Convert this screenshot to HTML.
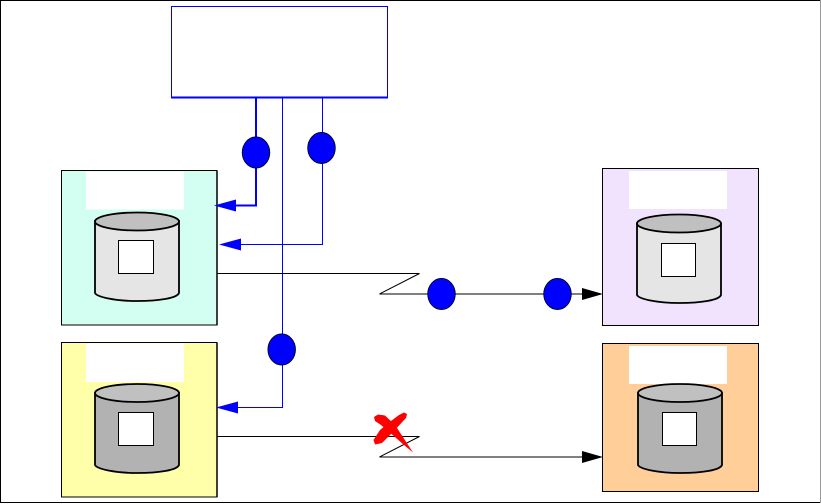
<!DOCTYPE html>
<html>
<head>
<meta charset="utf-8">
<style>
html,body{margin:0;padding:0;background:#fff}
svg{display:block}
</style>
</head>
<body>
<svg xmlns="http://www.w3.org/2000/svg" width="821" height="504" viewBox="0 0 821 504">
<rect width="821" height="504" fill="#fff"/>
<!-- frame -->
<path d="M0 0.5H821" stroke="#000" stroke-width="1"/>
<path d="M0 502.5H821" stroke="#000" stroke-width="1"/>
<path d="M0.5 0V503" stroke="#000" stroke-width="1"/>
<path d="M820.5 0V503" stroke="#999" stroke-width="1"/>
<!-- top box -->
<rect x="171.5" y="6.5" width="216" height="91" fill="#fff" stroke="#00f" stroke-width="1"/>
<path d="M171 97.5H388" stroke="#00f" stroke-width="2"/>

<!-- tinted boxes -->
<g stroke="#000" stroke-width="1">
<rect x="61.5" y="170.5" width="155.500" height="154.500" fill="#d2fff2"/>
<rect x="61.5" y="342.500" width="155.500" height="154.500" fill="#ffffaa"/>
<rect x="602.5" y="168.500" width="156" height="157" fill="#f1e3fe"/>
<rect x="602.5" y="343.500" width="156" height="148" fill="#ffce99"/>
</g>
<path d="M217 171V325M217 343V497" stroke="#000" stroke-width="1.500"/>
<g fill="#fff">
<rect x="86" y="171.500" width="98" height="38"/>
<rect x="86" y="343.500" width="98" height="38.500"/>
<rect x="629" y="171" width="98" height="38"/>
<rect x="629" y="346" width="98" height="38"/>
</g>

<!-- cylinders -->
<g stroke="#000" stroke-width="1.800">
<path d="M95 221V293C97 297 115 301 137 301C160 301 177 298 179 293V221Z" fill="#e5e5e5"/>
<ellipse cx="137" cy="221.500" rx="42" ry="9" fill="#c0c0c0"/>
<path d="M95 393V465C97 469 115 473 137 473C160 473 177 470 179 465V393Z" fill="#b2b2b2"/>
<ellipse cx="137" cy="393" rx="42" ry="9" fill="#c0c0c0"/>
<path d="M637 223.500V295C639 299 657 303 679 303C702 303 719 300 721 295V223.500Z" fill="#e5e5e5"/>
<ellipse cx="679" cy="223.500" rx="42" ry="9" fill="#c0c0c0"/>
<path d="M638 393V465C640 469 658 473 680 473C703 473 720 470 722 465V393Z" fill="#b2b2b2"/>
<ellipse cx="680" cy="393" rx="42" ry="9" fill="#c0c0c0"/>
</g>
<g fill="#fff" stroke="#000" stroke-width="1">
<rect x="118.500" y="240.500" width="35" height="33"/>
<rect x="118.500" y="412.500" width="35" height="33"/>
<rect x="661.500" y="243.500" width="34" height="33"/>
<rect x="662.500" y="412.500" width="34" height="33"/>
</g>

<!-- blue connectors -->
<g fill="none" stroke="#00f">
<path d="M256 97V205.500H234" stroke-width="2"/>
<path d="M322.500 97V244.500H238" stroke-width="1"/>
<path d="M282.500 97V407.500H236" stroke-width="1"/>
</g>
<g fill="#00f">
<polygon points="214,205.500 236,199.500 236,211.500"/>
<polygon points="219,244.500 241,238.500 241,250.500"/>
<polygon points="216,407.500 238,401.500 238,413.500"/>
</g>

<!-- black connectors -->
<g fill="none" stroke="#000" stroke-width="1">
<path d="M217 273.500H419.500L379.500 294H585"/>
<path d="M217 436.500H419.500L379.500 457H585"/>
</g>
<g fill="#000">
<polygon points="603,294 582,288 582,300"/>
<polygon points="603,457 582,451 582,463"/>
</g>

<!-- blue circles -->
<g fill="#00f" stroke="#000" stroke-width="0.800">
<ellipse cx="256" cy="152.500" rx="13.800" ry="15.600"/>
<ellipse cx="321.500" cy="148" rx="13.800" ry="15.600"/>
<ellipse cx="281.700" cy="349.500" rx="13.800" ry="15.600"/>
<ellipse cx="441.500" cy="294" rx="13.800" ry="15.600"/>
<ellipse cx="557.500" cy="294" rx="13.800" ry="15.600"/>
</g>

<!-- red cross -->
<g fill="#f00">
<polygon points="374,417 378,414.500 385,415.500 395,425 413,452.500 404,445 391,433.500 381,425 375,421"/>
<polygon points="404,412.500 407,414 406,418 392,433 382,443 375,444.500 373.500,440 380,430 391,421 399,415"/>
</g>
</svg>
</body>
</html>
